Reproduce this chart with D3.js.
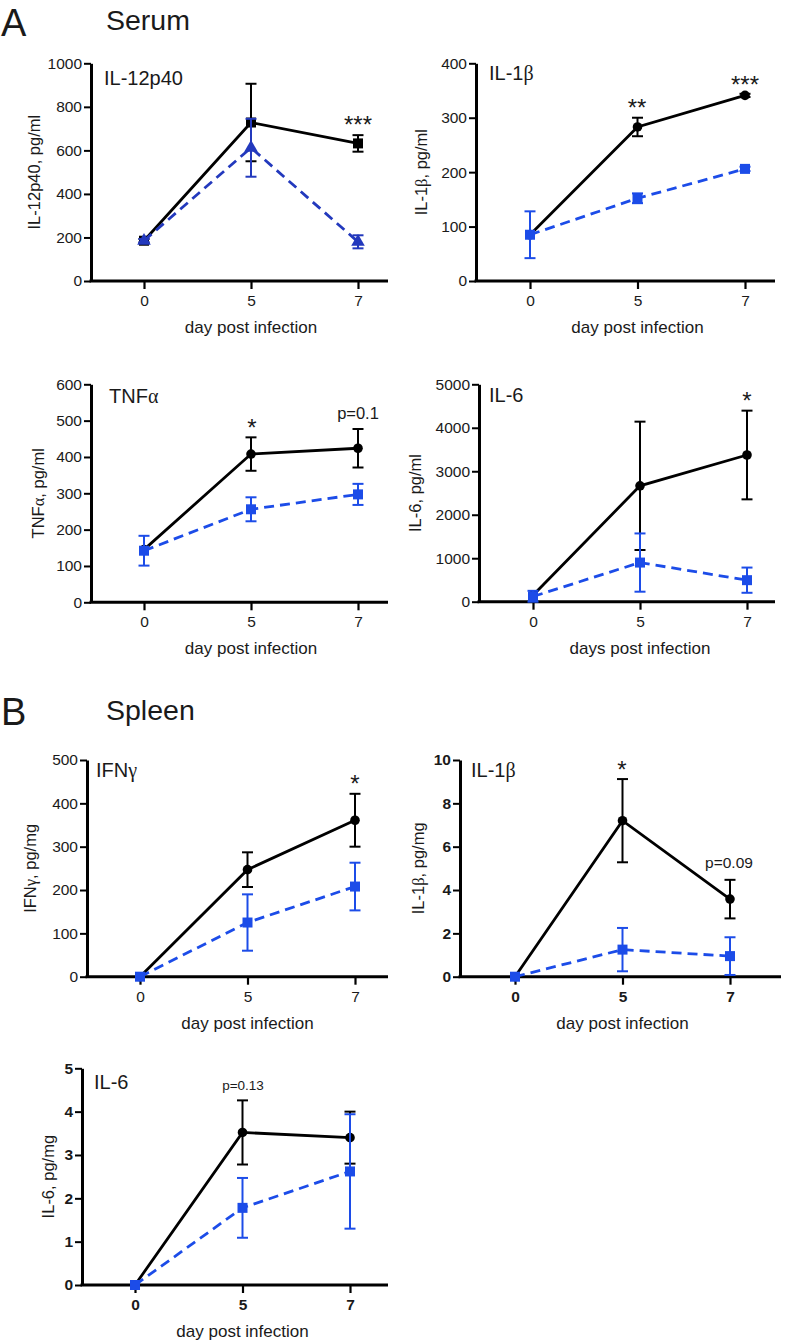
<!DOCTYPE html>
<html><head><meta charset="utf-8">
<script src="https://cdn.jsdelivr.net/npm/d3@7"></script>
<style>
body{margin:0;background:#fff}
svg{display:block}
text{font-family:"Liberation Sans",Arial,Helvetica,sans-serif;fill:#1a1a1a}
</style>
</head><body><svg id="c" width="786" height="1344"></svg>
<script>
// ---------------- DATA ----------------
const days = ["0", "5", "7"];

// Serum IL-12p40 (pg/ml)
const il12Ticks = [0, 200, 400, 600, 800, 1000];
const il12Black = [185, 728, 632];
const il12BlackErr = [8, 178, 38];
const il12Blue = [185, 612, 180];
const il12BlueErr = [8, 133, 30];

// Serum IL-1b (pg/ml)
const il1bSerTicks = [0, 100, 200, 300, 400];
const il1bSerBlack = [85, 283, 341];
const il1bSerBlackErr = [0, 17, 3];
const il1bSerBlue = [85, 152, 206];
const il1bSerBlueErr = [43, 9, 4];

// Serum TNFa (pg/ml)
const tnfTicks = [0, 100, 200, 300, 400, 500, 600];
const tnfBlack = [145, 408, 424];
const tnfBlackErr = [0, 46, 53];
const tnfBlue = [142, 256, 297];
const tnfBlueErr = [41, 33, 29];

// Serum IL-6 (pg/ml)
const il6SerTicks = [0, 1000, 2000, 3000, 4000, 5000];
const il6SerBlack = [150, 2665, 3374];
const il6SerBlackErr = [0, 1476, 1020];
const il6SerBlue = [120, 900, 495];
const il6SerBlueErr = [130, 670, 290];

// Spleen IFNg (pg/mg)
const ifnTicks = [0, 100, 200, 300, 400, 500];
const ifnBlack = [0, 247, 361];
const ifnBlackErr = [0, 40, 61];
const ifnBlue = [0, 125, 208];
const ifnBlueErr = [0, 65, 55];

// Spleen IL-1b (pg/mg)
const il1bSplTicks = [0, 2, 4, 6, 8, 10];
const il1bSplBlack = [0, 7.2, 3.58];
const il1bSplBlackErr = [0, 1.92, 0.89];
const il1bSplBlue = [0, 1.25, 0.95];
const il1bSplBlueErr = [0, 1.0, 0.87];

// Spleen IL-6 (pg/mg)
const il6SplTicks = [0, 1, 2, 3, 4, 5];
const il6SplBlack = [0, 3.52, 3.4];
const il6SplBlackErr = [0, 0.74, 0.6];
const il6SplBlue = [0, 1.78, 2.62];
const il6SplBlueErr = [0, 0.69, 1.32];

// ---------------- PANELS ----------------
const panels = [
  {title:"IL-12p40", yLabel:"IL-12p40, pg/ml", xLabel:"day post infection",
   ticks:il12Ticks, black:il12Black, blackErr:il12BlackErr, blue:il12Blue, blueErr:il12BlueErr,
   blackShape:"square", blueShape:"triangle", blueColor:"#2339bd", bold:false,
   L:{ax:91, top:63.3, bot:281, xEnd:388, x0:144, x1:358, yLabX:34, tx:104, ty:85},
   notes:[{t:"***", x:358, y:132.6, fs:24}]},
  {title:"IL-1β", yLabel:"IL-1β, pg/ml", xLabel:"day post infection",
   ticks:il1bSerTicks, black:il1bSerBlack, blackErr:il1bSerBlackErr, blue:il1bSerBlue, blueErr:il1bSerBlueErr,
   blackShape:"circle", blueShape:"square", blueColor:"#1c4ce8", bold:false,
   L:{ax:476, top:63.3, bot:281, xEnd:775, x0:530, x1:745, yLabX:421, tx:489, ty:80},
   notes:[{t:"**", x:637, y:116, fs:24},{t:"***", x:745, y:92.6, fs:24}]},
  {title:"TNFα", yLabel:"TNFα, pg/ml", xLabel:"day post infection",
   ticks:tnfTicks, black:tnfBlack, blackErr:tnfBlackErr, blue:tnfBlue, blueErr:tnfBlueErr,
   blackShape:"circle", blueShape:"square", blueColor:"#1c4ce8", bold:false,
   L:{ax:91, top:384.3, bot:602.3, xEnd:388, x0:144, x1:358, yLabX:38, tx:109, ty:403},
   notes:[{t:"*", x:252, y:435.5, fs:24},{t:"p=0.1", x:358, y:419, fs:16.5}]},
  {title:"IL-6", yLabel:"IL-6, pg/ml", xLabel:"days post infection",
   ticks:il6SerTicks, black:il6SerBlack, blackErr:il6SerBlackErr, blue:il6SerBlue, blueErr:il6SerBlueErr,
   blackShape:"circle", blueShape:"square", blueColor:"#1c4ce8", bold:false,
   L:{ax:479, top:384.3, bot:601.7, xEnd:775, x0:533, x1:747, yLabX:415, tx:489, ty:402},
   notes:[{t:"*", x:747, y:409, fs:24}]},
  {title:"IFNγ", yLabel:"IFNγ, pg/mg", xLabel:"day post infection",
   ticks:ifnTicks, black:ifnBlack, blackErr:ifnBlackErr, blue:ifnBlue, blueErr:ifnBlueErr,
   blackShape:"circle", blueShape:"square", blueColor:"#1c4ce8", bold:false,
   L:{ax:87, top:760, bot:976.7, xEnd:388, x0:140, x1:355, yLabX:30, tx:96, ty:777},
   notes:[{t:"*", x:355, y:791.5, fs:24}]},
  {title:"IL-1β", yLabel:"IL-1β, pg/mg", xLabel:"day post infection",
   ticks:il1bSplTicks, black:il1bSplBlack, blackErr:il1bSplBlackErr, blue:il1bSplBlue, blueErr:il1bSplBlueErr,
   blackShape:"circle", blueShape:"square", blueColor:"#1c4ce8", bold:true,
   L:{ax:460, top:760, bot:976.7, xEnd:781, x0:515, x1:730, yLabX:418, tx:471, ty:777},
   notes:[{t:"*", x:622, y:777.5, fs:24},{t:"p=0.09", x:729, y:868, fs:15.5}]},
  {title:"IL-6", yLabel:"IL-6, pg/mg", xLabel:"day post infection",
   ticks:il6SplTicks, black:il6SplBlack, blackErr:il6SplBlackErr, blue:il6SplBlue, blueErr:il6SplBlueErr,
   blackShape:"circle", blueShape:"square", blueColor:"#1c4ce8", bold:true,
   L:{ax:82, top:1068.3, bot:1285, xEnd:388, x0:135, x1:350, yLabX:48, tx:94, ty:1089},
   notes:[{t:"p=0.13", x:243, y:1090, fs:13.5, fill:"#444"}]}
];

const svg = d3.select("#c");

function richText(sel, str) {
  const runs = str.match(/[αβγ]+|[^αβγ]+/g);
  runs.forEach(r => {
    const ts = sel.append("tspan").text(r);
    if (/[αβγ]/.test(r)) ts.style("font-family", "'Liberation Serif','DejaVu Serif',serif");
  });
  return sel;
}

// section headers
svg.append("text").attr("x", 1).attr("y", 36).attr("font-size", 38).text("A");
svg.append("text").attr("x", 106).attr("y", 30).attr("font-size", 28.5).text("Serum");
svg.append("text").attr("x", 1).attr("y", 725).attr("font-size", 38).text("B");
svg.append("text").attr("x", 106).attr("y", 720).attr("font-size", 28.5).text("Spleen");

function marker(g, shape, x, y, color) {
  if (shape === "circle") {
    g.append("circle").attr("cx", x).attr("cy", y).attr("r", 4.8).attr("fill", color);
  } else if (shape === "square") {
    g.append("rect").attr("x", x - 5).attr("y", y - 5).attr("width", 10).attr("height", 10).attr("fill", color);
  } else {
    g.append("path").attr("transform", `translate(${x},${y})`)
      .attr("d", d3.symbol().type(d3.symbolTriangle).size(80)()).attr("fill", color);
  }
}

panels.forEach(p => {
  const L = p.L;
  const g = svg.append("g");
  const ys = d3.scaleLinear().domain([0, d3.max(p.ticks)]).range([L.bot, L.top]);
  const xs = d3.scalePoint().domain(days).range([L.x0, L.x1]);
  const fw = p.bold ? "bold" : "normal";

  // y axis
  const yAx = g.append("g").attr("transform", `translate(${L.ax},0)`)
    .call(d3.axisLeft(ys).tickValues(p.ticks).tickSize(7).tickSizeOuter(0).tickPadding(2).tickFormat(d3.format("d")));
  yAx.select(".domain").attr("stroke", "#000").attr("stroke-width", 3);
  yAx.selectAll(".tick line").attr("stroke", "#000").attr("stroke-width", 2);
  yAx.selectAll(".tick text").attr("font-size", 15.5).attr("font-weight", fw)
     .attr("font-family", "'Liberation Sans',Arial,sans-serif").attr("fill", "#1a1a1a");

  // x axis
  g.append("line").attr("x1", L.ax - 1.5).attr("x2", L.xEnd).attr("y1", L.bot).attr("y2", L.bot)
    .attr("stroke", "#000").attr("stroke-width", 3);
  const xAx = g.append("g").attr("transform", `translate(0,${L.bot})`)
    .call(d3.axisBottom(xs).tickSize(8).tickSizeOuter(0).tickPadding(6));
  xAx.select(".domain").remove();
  xAx.selectAll(".tick line").attr("stroke", "#000").attr("stroke-width", 2.2);
  xAx.selectAll(".tick text").attr("font-size", 15.5).attr("font-weight", fw)
     .attr("font-family", "'Liberation Sans',Arial,sans-serif").attr("fill", "#1a1a1a");

  // labels
  g.append("text").attr("x", (L.x0 + L.x1) / 2).attr("y", L.bot + 52).attr("text-anchor", "middle")
    .attr("font-size", 17).text(p.xLabel);
  richText(g.append("text").attr("transform", `translate(${L.yLabX},${(L.top + L.bot) / 2}) rotate(-90)`)
    .attr("text-anchor", "middle").attr("dy", "0.35em").attr("font-size", 16.5), p.yLabel);
  richText(g.append("text").attr("x", L.tx).attr("y", L.ty).attr("font-size", 20), p.title);

  // series
  const series = [
    {v: p.black, e: p.blackErr, color: "#000", dash: null, shape: p.blackShape},
    {v: p.blue, e: p.blueErr, color: p.blueColor, dash: "10,6", shape: p.blueShape}
  ];
  series.forEach(s => {
    const pts = days.map((d, i) => ({x: xs(d), v: s.v[i], e: s.e[i]}));
    pts.forEach(pt => {
      if (pt.e <= 0) return;
      const yh = ys(pt.v + pt.e), yl = ys(Math.max(0, pt.v - pt.e));
      g.append("line").attr("x1", pt.x).attr("x2", pt.x).attr("y1", yh).attr("y2", yl)
        .attr("stroke", s.color).attr("stroke-width", 2);
      [yh, yl].forEach(yy => g.append("line").attr("x1", pt.x - 5.5).attr("x2", pt.x + 5.5)
        .attr("y1", yy).attr("y2", yy).attr("stroke", s.color).attr("stroke-width", 2));
    });
    g.append("path").datum(pts)
      .attr("d", d3.line().x(d => d.x).y(d => ys(d.v)))
      .attr("fill", "none").attr("stroke", s.color).attr("stroke-width", 2.8)
      .attr("stroke-dasharray", s.dash);
    pts.forEach(pt => marker(g, s.shape, pt.x, ys(pt.v), s.color));
  });

  // annotations
  p.notes.forEach(n => {
    g.append("text").attr("x", n.x).attr("y", n.y).attr("text-anchor", "middle")
      .attr("font-size", n.fs).attr("fill", n.fill || "#1a1a1a").text(n.t);
  });
});
</script>
</body></html>
